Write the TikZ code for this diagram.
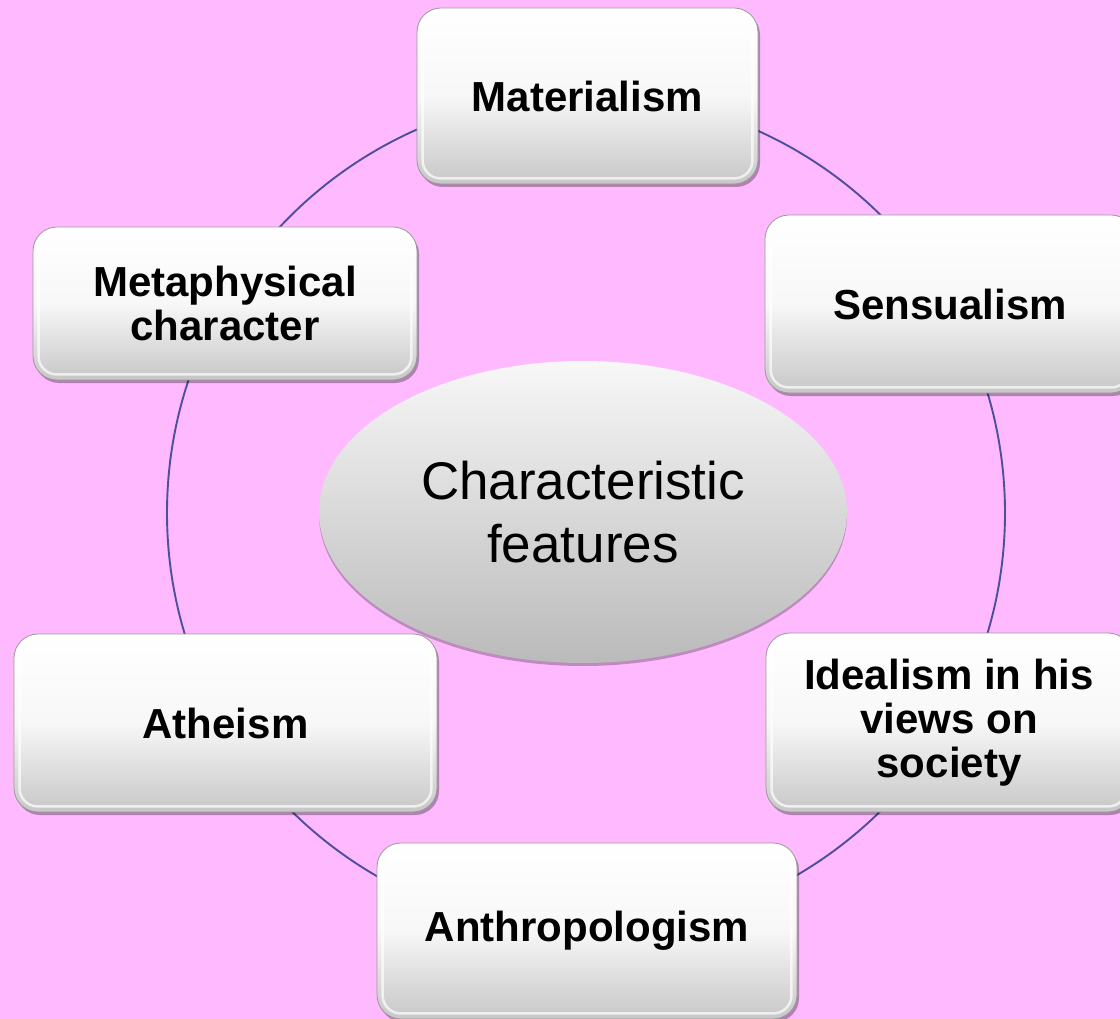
\documentclass[tikz,border=0pt]{standalone}
\usepackage{fontspec}
\setmainfont{Liberation Sans}
\usetikzlibrary{shapes.geometric,shadows}
\definecolor{bgpink}{RGB}{255,185,255}
\definecolor{ringcol}{RGB}{78,78,158}
\begin{document}
\begin{tikzpicture}[x=1pt,y=-1pt,
  box/.style={rectangle, rounded corners=24pt, draw=black!40, line width=0.8pt,
    top color=white, bottom color=black!22, middle color=white!97!black,
    drop shadow={shadow xshift=2pt, shadow yshift=-3pt, opacity=0.3, fill=black},
    font=\fontsize{42}{44}\selectfont\bfseries, align=center, inner sep=0pt},
  bevel/.style={white, line width=2.5pt, opacity=0.7, rounded corners=18pt},
  ring/.style={draw=ringcol, line width=1.9pt},
  hub/.style={ellipse, top color=black!3, bottom color=black!27, draw=none,
    drop shadow={shadow xshift=0pt, shadow yshift=-3pt, opacity=0.25, fill=black},
    font=\fontsize{53}{63}\selectfont, align=center,
    minimum width=528pt, minimum height=302pt, inner sep=0pt}
]
\useasboundingbox (0,0) rectangle (1120,1019);
\clip (0,0) rectangle (1120,1019);
\fill[bgpink] (0,0) rectangle (1120,1019);

% ring
\coordinate (ctr) at (586,513);
\draw[ring] (ctr) circle[radius=419pt];

% hub
\node[hub] (hub) at (583,512) {Characteristic\\features};

% boxes
\node[box, minimum width=341pt, minimum height=176pt] (mat) at (587.5,96) {Materialism};
\node[box, minimum width=370pt, minimum height=178pt] (sen) at (950,304) {Sensualism};
\node[box, minimum width=384pt, minimum height=153pt] (met) at (225,303.5) {Metaphysical\\character};
\node[box, minimum width=423pt, minimum height=178pt] (ath) at (225.5,723) {Atheism};
\node[box, minimum width=366pt, minimum height=179pt] (ide) at (949,722.5) {Idealism in his\\views on\\society};
\node[box, minimum width=420pt, minimum height=176pt] (ant) at (587,931) {Anthropologism};

\foreach \n in {mat,sen,met,ath,ide,ant}
  \draw[bevel] ([shift={(6pt,6pt)}]\n.south west) rectangle ([shift={(-6pt,-6pt)}]\n.north east);
\end{tikzpicture}
\end{document}
